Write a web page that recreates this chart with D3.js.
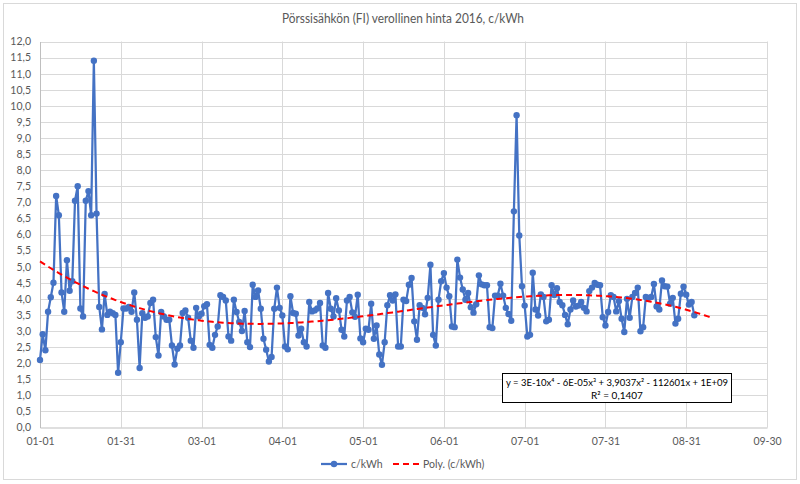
<!DOCTYPE html>
<html>
<head>
<meta charset="utf-8">
<script src="https://cdn.jsdelivr.net/npm/d3@7"></script>
<style>
  body { margin: 0; background: #fff; }
  svg { font-family: Lato, "Open Sans", sans-serif; }
</style>
</head>
<body>
<svg id="chart" width="800" height="484"></svg>
<script>
// Daily prices, day 0 = 01-01
const prices = [
  2.1, 2.9, 2.4, 3.6, 4.05, 4.5, 7.2, 6.6, 4.2, 3.6,
  5.2, 4.25, 4.55, 7.05, 7.5, 3.7, 3.45, 7.05, 7.35, 6.6,
  11.4, 6.65, 3.75, 3.05, 4.15, 3.5, 3.6, 3.55, 3.5, 1.7,
  2.65, 3.7, 3.7, 3.75, 3.6, 4.2, 3.35, 1.85, 3.55, 3.41,
  3.45, 3.87, 3.97, 2.81, 2.24, 3.59, 3.45, 3.35, 3.35, 2.55,
  1.96, 2.45, 2.55, 3.56, 3.64, 3.41, 2.7, 2.48, 3.72, 3.45,
  3.54, 3.77, 3.83, 2.57, 2.48, 2.88, 3.14, 4.11, 4.06, 3.95,
  2.83, 2.7, 3.97, 3.59, 3.28, 3.0, 3.62, 2.65, 2.5, 4.44,
  4.06, 4.26, 3.69, 2.76, 2.42, 2.05, 2.19, 3.69, 4.35, 3.72,
  3.48, 2.52, 2.43, 4.08, 3.56, 3.54, 2.86, 3.07, 2.65, 2.52,
  3.9, 3.61, 3.64, 3.7, 3.87, 2.55, 2.48, 4.18, 3.69, 3.45,
  4.02, 3.64, 3.04, 2.83, 3.95, 4.06, 3.58, 3.44, 4.13, 2.77,
  2.65, 3.07, 3.04, 3.85, 2.76, 3.17, 2.27, 1.95, 2.65, 3.8,
  4.11, 3.95, 4.14, 2.52, 2.52, 3.97, 3.93, 4.44, 4.65, 3.3,
  2.73, 3.8, 3.72, 3.52, 4.03, 5.06, 2.88, 2.55, 3.97, 4.55,
  4.8, 4.35, 4.08, 3.14, 3.12, 5.22, 4.66, 4.29, 3.97, 4.18,
  3.74, 3.57, 3.83, 4.73, 4.45, 4.42, 4.42, 3.12, 3.09, 4.1,
  4.1, 4.47, 4.1, 3.72, 3.53, 3.32, 6.72, 9.71, 5.97, 4.39,
  3.79, 2.83, 2.88, 4.81, 3.67, 3.48, 4.14, 4.06, 3.3, 3.35,
  4.42, 4.12, 4.33, 3.9, 3.8, 3.5, 3.21, 3.67, 3.95, 3.76,
  3.79, 3.9, 3.72, 3.61, 4.24, 4.35, 4.49, 4.44, 4.42, 3.43,
  3.17, 3.59, 4.11, 4.06, 3.61, 3.93, 3.38, 2.97, 4.0, 3.41,
  4.06, 4.18, 4.35, 2.99, 3.12, 4.06, 4.03, 4.06, 4.46, 3.76,
  3.67, 4.57, 4.39, 4.38, 3.85, 4.03, 3.23, 3.38, 4.16, 4.38,
  4.13, 3.82, 3.9, 3.49
];

const xTickDays = [0, 30, 60, 90, 120, 150, 180, 210, 240, 270];
const xTickLabels = ["01-01", "01-31", "03-01", "04-01", "05-01", "06-01", "07-01", "07-31", "08-31", "09-30"];
const yTicks = d3.range(0, 12.01, 0.5);
const trendForward = 7;

const titleText = "Pörssisähkön (FI) verollinen hinta 2016, c/kWh";
const eqLine1 = "y = 3E-10x⁴ - 6E-05x³ + 3,9037x² - 112601x + 1E+09";
const eqLine2 = "R² = 0,1407";
const seriesName = "c/kWh";
const trendName = "Poly. (c/kWh)";

const svg = d3.select("#chart");
const blue = "#4472C4", grid = "#d9d9d9", textCol = "#595959";

const x = d3.scaleLinear().domain([0, 270]).range([40, 767]);
const y = d3.scaleLinear().domain([0, 12]).range([427.5, 41.5]);

// chart frame
svg.append("rect")
  .attr("x", 3.5).attr("y", 3.5).attr("width", 793).attr("height", 476)
  .attr("fill", "#fff").attr("stroke", grid);

// gridlines
svg.append("g").selectAll("line").data(yTicks.slice(1)).enter().append("line")
  .attr("x1", x(0)).attr("x2", x(270))
  .attr("y1", d => Math.round(y(d)) + 0.5).attr("y2", d => Math.round(y(d)) + 0.5)
  .attr("stroke", grid);
svg.append("g").selectAll("line").data(xTickDays.slice(1)).enter().append("line")
  .attr("x1", d => Math.round(x(d)) + 0.5).attr("x2", d => Math.round(x(d)) + 0.5)
  .attr("y1", y(0)).attr("y2", y(12))
  .attr("stroke", grid);

// axes
const fmt = d => d.toFixed(1).replace(".", ",");
const yAxis = svg.append("g")
  .attr("transform", `translate(${x(0)},0)`)
  .call(d3.axisLeft(y).tickValues(yTicks).tickFormat(fmt).tickSize(0).tickPadding(9));
const xAxis = svg.append("g")
  .attr("transform", `translate(0,${y(0)})`)
  .call(d3.axisBottom(x).tickValues(xTickDays).tickFormat((d, i) => xTickLabels[i]).tickSize(0).tickPadding(10));
[yAxis, xAxis].forEach(a => {
  a.select(".domain").attr("stroke", "#bfbfbf");
  a.selectAll("text").attr("fill", textCol).style("font-size", "10.5px")
    .style("font-family", "Lato, sans-serif");
});

// polynomial (order 4) least squares trend
function polyFit(xs, ys, order) {
  const n = order + 1;
  const A = Array.from({length: n}, () => new Array(n + 1).fill(0));
  xs.forEach((xv, k) => {
    for (let i = 0; i < n; i++) {
      for (let j = 0; j < n; j++) A[i][j] += Math.pow(xv, i + j);
      A[i][n] += ys[k] * Math.pow(xv, i);
    }
  });
  for (let c = 0; c < n; c++) {
    let p = c;
    for (let r = c + 1; r < n; r++) if (Math.abs(A[r][c]) > Math.abs(A[p][c])) p = r;
    [A[c], A[p]] = [A[p], A[c]];
    for (let r = 0; r < n; r++) {
      if (r === c) continue;
      const f = A[r][c] / A[c][c];
      for (let k = c; k <= n; k++) A[r][k] -= f * A[c][k];
    }
  }
  return A.map((row, i) => row[n] / A[i][i]);
}
const days = prices.map((d, i) => i);
const coef = polyFit(days.map(d => d / 100), prices, 4);
const trendAt = d => coef.reduce((s, c, i) => s + c * Math.pow(d / 100, i), 0);
const trendDays = d3.range(0, prices.length - 1 + trendForward + 0.01, 1);

const line = d3.line().x(d => x(d[0])).y(d => y(d[1]));

// series
svg.append("path")
  .datum(prices.map((v, i) => [i, v]))
  .attr("fill", "none").attr("stroke", blue).attr("stroke-width", 2.25)
  .attr("stroke-linejoin", "round")
  .attr("d", line);
svg.append("g").selectAll("circle").data(prices).enter().append("circle")
  .attr("cx", (d, i) => x(i)).attr("cy", d => y(d)).attr("r", 3.2)
  .attr("fill", blue);

svg.append("path")
  .datum(trendDays.map(d => [d, trendAt(d)]))
  .attr("fill", "none").attr("stroke", "#ff0000").attr("stroke-width", 2)
  .attr("stroke-dasharray", "6,4")
  .attr("d", line);

// equation label
svg.append("rect")
  .attr("x", 502.5).attr("y", 373.5).attr("width", 229).attr("height", 29)
  .attr("fill", "#fff").attr("stroke", "#000");
svg.append("text").attr("x", 617).attr("y", 386).attr("text-anchor", "middle")
  .attr("fill", "#000").style("font-size", "10px")
  .attr("textLength", 222).attr("lengthAdjust", "spacingAndGlyphs").text(eqLine1);
svg.append("text").attr("x", 617).attr("y", 399).attr("text-anchor", "middle")
  .attr("fill", "#000").style("font-size", "10px").text(eqLine2);

// title
svg.append("text").attr("x", 403).attr("y", 23).attr("text-anchor", "middle")
  .attr("fill", textCol).style("font-size", "13.5px")
  .attr("textLength", 242).attr("lengthAdjust", "spacingAndGlyphs").text(titleText);

// legend
const lg = svg.append("g").attr("transform", "translate(0,464)");
lg.append("line").attr("x1", 321).attr("x2", 347).attr("stroke", blue).attr("stroke-width", 2.25);
lg.append("circle").attr("cx", 334).attr("r", 3.2).attr("fill", blue);
lg.append("text").attr("x", 351).attr("y", 4).attr("fill", textCol).style("font-size", "10.5px").text(seriesName);
lg.append("line").attr("x1", 393).attr("x2", 419).attr("stroke", "#ff0000").attr("stroke-width", 2)
  .attr("stroke-dasharray", "6,4");
lg.append("text").attr("x", 423).attr("y", 4).attr("fill", textCol).style("font-size", "10.5px").text(trendName);
</script>
</body>
</html>
